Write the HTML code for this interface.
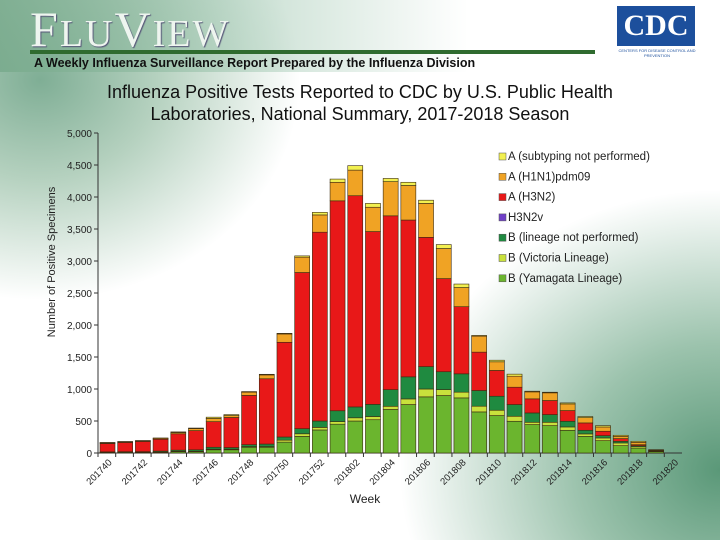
<!DOCTYPE html>
<html><head><meta charset="utf-8"><style>
body{margin:0;width:720px;height:540px;overflow:hidden;background:#fff;font-family:"Liberation Sans",sans-serif;}
#wrap{position:relative;width:720px;height:540px;overflow:hidden;
background:linear-gradient(90deg,rgba(120,170,140,0.85) 0%,rgba(170,205,185,0.6) 35%,rgba(255,255,255,0) 65%) 0 0/720px 72px no-repeat,
radial-gradient(ellipse 260px 220px at 40px 80px,#7fae95 0%,#b5d1bf 45%,rgba(255,255,255,0) 100%),
radial-gradient(ellipse 320px 280px at 720px 470px,#5a9878 0%,#9cc3ad 45%,rgba(255,255,255,0) 100%),#fff;}
</style></head><body>
<div id="wrap">
<div style="position:absolute;left:30px;top:2px;font-family:'Liberation Serif',serif;font-size:50px;color:#eef5ef;letter-spacing:2px;text-shadow:1px 1px 1px #557;line-height:54px">F<span style="font-size:38px">LU</span>V<span style="font-size:38px">IEW</span></div>
<div style="position:absolute;left:30px;top:50px;width:565px;height:4px;background:#2f6b2f"></div>
<div style="position:absolute;left:34px;top:56px;font-size:12.5px;font-weight:bold;color:#111">A Weekly Influenza Surveillance Report Prepared by the Influenza Division</div>
<div style="position:absolute;left:617px;top:6px;width:78px;height:40px;background:#1c4f9c;color:#fff;font-family:'Liberation Serif',serif;font-size:30px;font-weight:bold;text-align:center;line-height:40px">CDC</div>
<div style="position:absolute;left:617px;top:48px;width:80px;font-size:4px;color:#1c4f9c;text-align:center">CENTERS FOR DISEASE CONTROL AND PREVENTION</div>
<div style="position:absolute;left:0;top:81px;width:720px;text-align:center;font-size:18px;line-height:22px;color:#111">Influenza Positive Tests Reported to CDC by U.S. Public Health<br>Laboratories, National Summary, 2017-2018 Season</div>
<svg id="chart" width="720" height="540" style="position:absolute;left:0;top:0"></svg>
</div>
<script>
const weeks=["201740","201741","201742","201743","201744","201745","201746","201747","201748","201749","201750","201751","201752","201801","201802","201803","201804","201805","201806","201807","201808","201809","201810","201811","201812","201813","201814","201815","201816","201817","201818","201819","201820"];
const yamagata=[5,5,8,10,20,20,50,50,90,90,170,260,360,450,500,520,680,757,877,898,861,642,585,496,444,428,355,261,193,115,78,20,0];
const victoria=[3,3,3,5,5,5,10,10,10,10,30,40,40,40,50,50,50,88,123,92,89,89,83,78,36,52,52,37,42,42,21,5,0];
const bLineageNP=[10,12,10,15,20,25,30,25,30,40,50,80,100,170,170,190,260,345,350,280,287,245,219,183,146,120,89,57,36,26,16,10,0];
const h3n2v=[0,0,0,0,0,0,0,0,0,0,0,0,0,0,0,0,0,0,0,0,0,0,0,0,0,0,0,0,0,0,0,0,0];
const h3n2=[130,145,160,185,255,300,400,470,770,1020,1480,2440,2950,3280,3300,2700,2716,2450,2020,1455,1049,600,403,271,220,220,167,115,69,42,15,5,0];
const h1n1=[10,10,10,15,20,30,50,30,50,60,130,240,270,290,400,380,534,540,530,470,299,250,135,172,109,120,104,83,67,36,37,5,0];
const aUnsub=[7,5,4,5,10,10,20,15,10,10,10,20,40,50,70,60,50,50,50,62,55,11,25,32,11,10,16,16,21,16,16,7,0];
const yTicks=[0,500,1000,1500,2000,2500,3000,3500,4000,4500,5000];
const seriesNames=["B (Yamagata Lineage)","B (Victoria Lineage)","B (lineage not performed)","H3N2v","A (H3N2)","A (H1N1)pdm09","A (subtyping not performed)"];
const seriesData=[yamagata,victoria,bLineageNP,h3n2v,h3n2,h1n1,aUnsub];
const colors=["#6bb52e","#c9e13c","#1f8a40","#7040c8","#e81818","#f0a324","#f2f050"];
const svg=document.getElementById('chart');const NS="http://www.w3.org/2000/svg";
function mk(t,a,p){const e=document.createElementNS(NS,t);for(const k in a)e.setAttribute(k,a[k]);(p||svg).appendChild(e);return e;}
const x0=98,x1=682,y0=453,yTop=133,yMax=5000;
const slot=(x1-x0)/weeks.length;
function xs(i){return x0+2+i*slot;}
function ys(v){return y0-(v/yMax)*(y0-yTop);}
const ax=mk('line',{x1:x0,y1:yTop,x2:x0,y2:y0,stroke:'#333','stroke-width':1});

const bx=mk('line',{x1:x0,y1:y0,x2:x1,y2:y0,stroke:'#333','stroke-width':1});

yTicks.forEach(t=>{const y=ys(t);
mk('line',{x1:x0-4,y1:y,x2:x0,y2:y,stroke:'#333'});
const tx=mk('text',{x:x0-6,y:y+4,'text-anchor':'end','font-size':10,fill:'#222'});

tx.textContent=t.toLocaleString('en-US');});
const yt=mk('text',{x:0,y:0,'text-anchor':'middle','font-size':11,fill:'#222',transform:'translate(55,262) rotate(-90)'});

yt.textContent='Number of Positive Specimens';
const xt=mk('text',{x:365,y:503,'text-anchor':'middle','font-size':12,fill:'#222'});

xt.textContent='Week';
weeks.forEach((w,i)=>{const xc=xs(i)+7.5;
mk('line',{x1:x0+i*slot,y1:y0,x2:x0+i*slot,y2:y0+4,stroke:'#333'});
if(i%2===0){const lb=mk('text',{x:0,y:0,'text-anchor':'end','font-size':9.5,fill:'#222',transform:`translate(${xc+5},${y0+10}) rotate(-45)`});
lb.textContent=w;}
let cum=0;
seriesData.forEach((s,k)=>{const v=s[i];if(v<=0)return;
const r=mk('rect',{x:xs(i),y:ys(cum+v),width:15,height:ys(cum)-ys(cum+v),fill:colors[k],stroke:'#3a2a10','stroke-width':0.6});
cum+=v;});
});
const legOrder=[6,5,4,3,2,1,0];
legOrder.forEach((k,j)=>{const y=156+j*20.3;
const g=mk('g',{});
mk('rect',{x:499,y:y-3,width:7,height:7,fill:colors[k],stroke:'#555','stroke-width':0.5},g);
const t=mk('text',{x:508,y:y+4,'font-size':11.5,fill:'#222'},g);t.textContent=seriesNames[k];});
</script>
</body></html>
